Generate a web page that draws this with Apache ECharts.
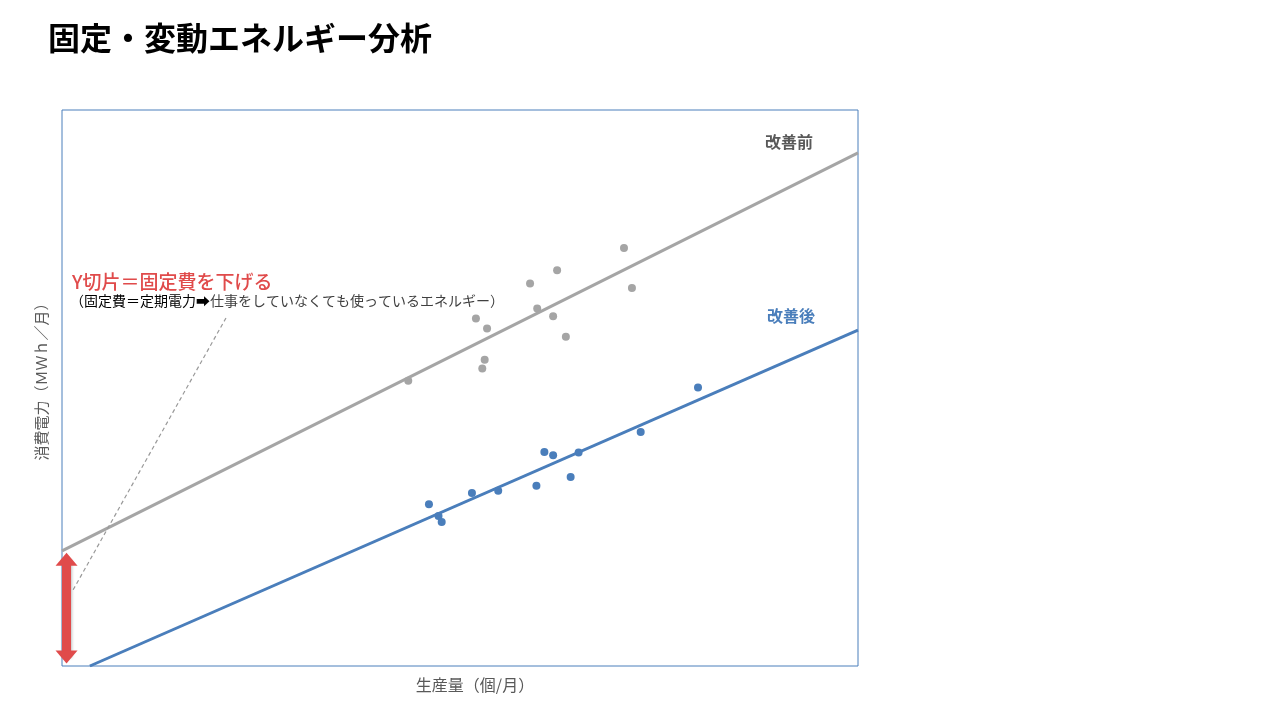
<!DOCTYPE html>
<html>
<head>
<meta charset="utf-8">
<script src="https://cdn.jsdelivr.net/npm/echarts@6/dist/echarts.min.js"></script>
<style>
  html, body { margin: 0; padding: 0; background: #fff; }
  #main { width: 1280px; height: 720px; }
</style>
</head>
<body>
<div id="main"></div>
<script>
// 改善前（生産量, 消費電力）
var beforePoints = [
  [43.5, 51.3], [52.0, 62.5], [53.4, 60.7], [53.1, 55.1], [52.8, 53.5], [58.8, 68.8],
  [62.2, 71.2], [59.7, 64.3], [61.7, 62.9], [63.3, 59.2], [70.6, 75.2], [71.6, 68.0]
];
// 改善後
var afterPoints = [
  [46.1, 29.1], [47.3, 27.0], [47.7, 25.9], [51.5, 31.1], [54.8, 31.5], [59.6, 32.4],
  [60.6, 38.5], [61.7, 37.9], [63.9, 34.0], [64.9, 38.4], [72.7, 42.1], [79.9, 50.1]
];
// 近似直線の端点
var beforeTrend = [[0, 20.7], [100, 92.3]];
var afterTrend = [[3.5, 0], [100, 60.4]];
// Y切片の矢印と引き出し線
var interceptArrow = [[0.57, 19.2], [0.57, 1.6]];
var leaderLine = [[1.4, 13.7], [20.6, 62.6]];

var grayC = '#a5a5a5';
var blueC = '#4a7ebb';
var redC = '#e04b4b';
var font = '"Noto Sans CJK JP", "Noto Sans", sans-serif';

var chart = echarts.init(document.getElementById('main'));
var option = {
  animation: false,
  textStyle: { fontFamily: font },
  title: {
    text: '固定・変動エネルギー分析',
    left: 43, top: 17,
    textStyle: { fontSize: 32, fontWeight: 'bold', color: '#000', fontFamily: font }
  },
  grid: {
    left: 62, top: 110, width: 796, height: 556,
    show: true, borderColor: '#4a7ebb', borderWidth: 1, backgroundColor: 'transparent'
  },
  xAxis: {
    type: 'value', min: 0, max: 100,
    axisLine: { show: false }, axisTick: { show: false },
    axisLabel: { show: false }, splitLine: { show: false },
    name: '生産量（個/月）', nameLocation: 'middle', nameGap: 11,
    nameTextStyle: { color: '#595959', fontSize: 16, fontFamily: font, verticalAlign: 'top', padding: [0, 0, 0, 30] }
  },
  yAxis: {
    type: 'value', min: 0, max: 100,
    axisLine: { show: false }, axisTick: { show: false },
    axisLabel: { show: false }, splitLine: { show: false },
    name: '消費電力（ＭＷｈ／月）', nameLocation: 'middle', nameGap: 13, nameRotate: 90,
    nameTextStyle: { color: '#595959', fontSize: 15, fontFamily: font, padding: [0, 0, 0, 20] }
  },
  series: [
    {
      type: 'line', data: beforeTrend, symbol: 'none', silent: true,
      lineStyle: { color: grayC, width: 3 },
      markLine: {
        silent: true, animation: false, label: { show: false },
        data: [
          [
            { coord: leaderLine[0], symbol: 'none', lineStyle: { color: '#999', width: 1.2, type: [4, 3] } },
            { coord: leaderLine[1], symbol: 'none' }
          ],
          [
            { coord: interceptArrow[0], symbol: 'triangle', symbolSize: [22, 13],
              lineStyle: { color: redC, width: 9, type: 'solid', shadowBlur: 3, shadowColor: 'rgba(0,0,0,0.25)', shadowOffsetX: 1, shadowOffsetY: 1 },
              itemStyle: { color: redC } },
            { coord: interceptArrow[1], symbol: 'triangle', symbolSize: [22, 13], itemStyle: { color: redC } }
          ]
        ]
      }
    },
    {
      type: 'line', data: afterTrend, symbol: 'none', silent: true,
      lineStyle: { color: blueC, width: 3 }
    },
    {
      type: 'scatter', data: beforePoints, symbolSize: 8,
      itemStyle: { color: grayC, opacity: 1 }
    },
    {
      type: 'scatter', data: afterPoints, symbolSize: 8,
      itemStyle: { color: blueC, opacity: 1 }
    }
  ],
  graphic: [
    {
      type: 'text', left: 72, top: 272,
      style: { text: 'Y切片＝固定費を下げる', fill: redC, font: '500 19px ' + font }
    },
    {
      type: 'text', left: 70, top: 294,
      style: {
        text: '{a|（固定費＝定期電力➡}{b|仕事をしていなくても使っているエネルギー）}',
        rich: {
          a: { fill: '#000', font: '14px ' + font },
          b: { fill: '#404040', font: '14px ' + font }
        }
      }
    },
    {
      type: 'text', x: 789, y: 142,
      style: { text: '改善前', fill: '#595959', font: 'bold 16px ' + font, align: 'center', verticalAlign: 'middle' }
    },
    {
      type: 'text', x: 791, y: 316,
      style: { text: '改善後', fill: blueC, font: 'bold 16px ' + font, align: 'center', verticalAlign: 'middle' }
    }
  ]
};
chart.setOption(option);
window.onresize = chart.resize;
</script>
</body>
</html>
